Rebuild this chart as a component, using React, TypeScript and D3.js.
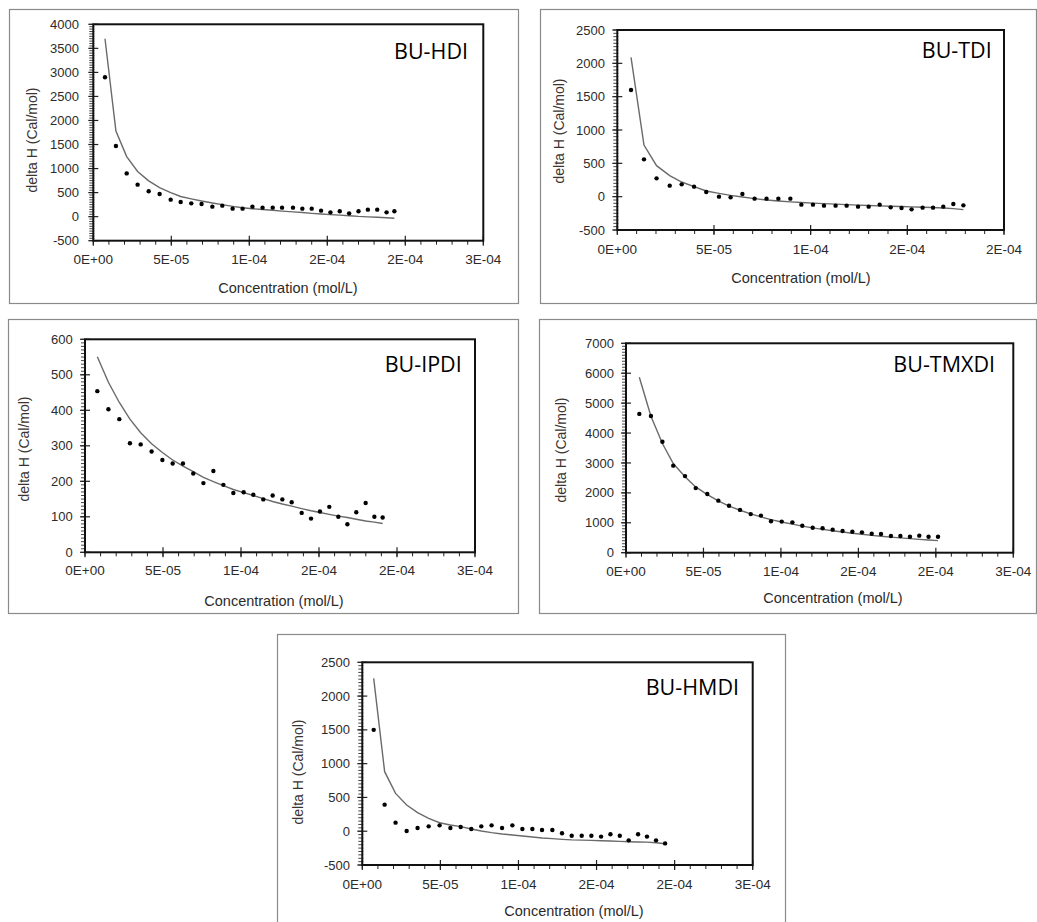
import React from "react";
import * as d3 from "d3";

// ---------- DATA (concentration in units of 1e-5 mol/L, deltaH in Cal/mol) ----------
const hdiConc = [0.75, 1.45, 2.14, 2.84, 3.55, 4.25, 4.96, 5.6, 6.28, 6.94, 7.63, 8.27, 8.93, 9.57, 10.2, 10.85, 11.5, 12.1, 12.8, 13.4, 14.0, 14.6, 15.2, 15.8, 16.4, 17.0, 17.6, 18.2, 18.8, 19.3];
const hdiObs = [2900, 1470, 900, 666, 527, 472, 354, 305, 277, 263, 208, 229, 166, 166, 208, 187, 187, 187, 187, 166, 166, 125, 90, 111, 69, 111, 146, 146, 90, 111];
const hdiFit = [3700, 1780, 1250, 940, 745, 605, 500, 420, 370, 325, 285, 250, 215, 185, 165, 148, 132, 115, 100, 85, 68, 55, 42, 32, 20, 5, -5, -12, -22, -32];

const tdiConc = [0.71, 1.38, 2.03, 2.71, 3.33, 3.97, 4.6, 5.26, 5.86, 6.47, 7.1, 7.72, 8.33, 8.95, 9.52, 10.12, 10.69, 11.29, 11.86, 12.45, 13.0, 13.57, 14.14, 14.7, 15.22, 15.79, 16.33, 16.86, 17.38, 17.9];
const tdiObs = [1600, 560, 275, 165, 185, 150, 70, 0, -10, 40, -30, -30, -30, -30, -120, -120, -135, -135, -135, -150, -150, -120, -160, -170, -190, -165, -165, -150, -110, -130];
const tdiFit = [2090, 775, 465, 315, 220, 150, 85, 50, 20, -5, -30, -50, -65, -78, -88, -97, -105, -112, -120, -127, -133, -138, -143, -148, -153, -158, -163, -170, -180, -195];

const ipdiConc = [0.79, 1.5, 2.2, 2.88, 3.57, 4.27, 4.96, 5.62, 6.28, 6.94, 7.59, 8.23, 8.87, 9.51, 10.17, 10.79, 11.43, 12.03, 12.65, 13.25, 13.89, 14.49, 15.06, 15.66, 16.24, 16.82, 17.39, 17.99, 18.55, 19.08];
const ipdiObs = [454, 403, 375, 307, 304, 284, 260, 250, 250, 222, 195, 229, 190, 167, 169, 162, 149, 160, 149, 141, 111, 95, 115, 128, 100, 79, 113, 139, 100, 98];
const ipdiFit = [551, 479, 422, 375, 337, 306, 281, 260, 243, 227, 211, 199, 188, 177, 168, 160, 151, 143, 136, 130, 123, 117, 112, 107, 102, 98, 93, 88, 85, 81];

const tmxdiConc = [0.86, 1.61, 2.35, 3.05, 3.81, 4.5, 5.25, 5.96, 6.65, 7.36, 8.05, 8.71, 9.36, 10.05, 10.74, 11.38, 12.05, 12.69, 13.34, 13.98, 14.61, 15.23, 15.86, 16.46, 17.1, 17.71, 18.33, 18.93, 19.53, 20.14];
const tmxdiObs = [4640, 4570, 3710, 2910, 2560, 2160, 1960, 1740, 1570, 1430, 1290, 1240, 1050, 1040, 1015, 900, 835, 815, 770, 725, 700, 680, 635, 625, 560, 560, 535, 570, 535, 535];
const tmxdiFit = [5865, 4560, 3650, 2980, 2540, 2200, 1940, 1730, 1560, 1420, 1300, 1195, 1105, 1025, 955, 890, 830, 780, 735, 690, 650, 615, 580, 550, 520, 495, 470, 445, 425, 405];

const hmdiConc = [0.73, 1.43, 2.13, 2.84, 3.54, 4.25, 4.95, 5.64, 6.3, 6.98, 7.62, 8.28, 8.95, 9.61, 10.25, 10.89, 11.51, 12.17, 12.79, 13.41, 14.05, 14.67, 15.29, 15.89, 16.49, 17.06, 17.66, 18.23, 18.81, 19.39];
const hmdiObs = [1500, 393, 127, 3, 48, 72, 87, 48, 63, 33, 72, 87, 48, 87, 33, 33, 18, 18, -31, -66, -66, -66, -80, -46, -66, -135, -46, -80, -135, -180];
const hmdiFit = [2263, 881, 560, 388, 275, 191, 126, 92, 68, 33, 3, -21, -41, -56, -71, -86, -100, -110, -120, -128, -132, -135, -140, -145, -150, -155, -160, -162, -170, -185];

const xTicksWide = [0, 5e-5, 1e-4, 1.5e-4, 2e-4, 2.5e-4];
const xTickLabelsWide = ["0E+00", "5E-05", "1E-04", "2E-04", "2E-04", "3E-04"];
const xTicksNarrow = [0, 5e-5, 1e-4, 1.5e-4, 2e-4];
const xTickLabelsNarrow = ["0E+00", "5E-05", "1E-04", "2E-04", "2E-04"];

const titles = ["BU-HDI", "BU-TDI", "BU-IPDI", "BU-TMXDI", "BU-HMDI"];
const xTitle = "Concentration (mol/L)";
const yTitle = "delta H (Cal/mol)";

// ---------- LAYOUT ----------
type PanelCfg = {
  title: string;
  conc: number[];
  obs: number[];
  fit: number[];
  box: [number, number, number, number];
  plot: { l: number; r: number; t: number; b: number };
  yDomain: [number, number];
  yStep: number;
  yMinor: number;
  xTicks: number[];
  xLabels: string[];
  titleX: number;
  titleY: number;
  yLabX: number;
  yTitleX: number;
  yTitleY: number;
  xLabY: number;
  xTitleX: number;
  xTitleY: number;
};

const panels: PanelCfg[] = [
  {
    title: titles[0], conc: hdiConc, obs: hdiObs, fit: hdiFit,
    box: [9, 9, 518, 303], plot: { l: 93.3, r: 483.3, t: 24.3, b: 240.7 },
    yDomain: [-500, 4000], yStep: 500, yMinor: 50,
    xTicks: xTicksWide, xLabels: xTickLabelsWide,
    titleX: 468, titleY: 59, yLabX: 79, yTitleX: 36.5, yTitleY: 140,
    xLabY: 264, xTitleX: 288, xTitleY: 293,
  },
  {
    title: titles[1], conc: tdiConc, obs: tdiObs, fit: tdiFit,
    box: [540, 9, 1036, 303], plot: { l: 617.3, r: 1004, t: 30, b: 230 },
    yDomain: [-500, 2500], yStep: 500, yMinor: 50,
    xTicks: xTicksNarrow, xLabels: xTickLabelsNarrow,
    titleX: 991.7, titleY: 58, yLabX: 605, yTitleX: 563.5, yTitleY: 131,
    xLabY: 254, xTitleX: 801, xTitleY: 283,
  },
  {
    title: titles[2], conc: ipdiConc, obs: ipdiObs, fit: ipdiFit,
    box: [8, 319, 518, 613], plot: { l: 85, r: 475, t: 339.3, b: 552.3 },
    yDomain: [0, 600], yStep: 100, yMinor: 10,
    xTicks: xTicksWide, xLabels: xTickLabelsWide,
    titleX: 461.7, titleY: 371.7, yLabX: 72.7, yTitleX: 28.5, yTitleY: 449,
    xLabY: 575, xTitleX: 274, xTitleY: 606,
  },
  {
    title: titles[3], conc: tmxdiConc, obs: tmxdiObs, fit: tmxdiFit,
    box: [539, 319, 1036, 613], plot: { l: 626, r: 1013.3, t: 343.3, b: 552.7 },
    yDomain: [0, 7000], yStep: 1000, yMinor: 100,
    xTicks: xTicksWide, xLabels: xTickLabelsWide,
    titleX: 995, titleY: 371.7, yLabX: 614, yTitleX: 566, yTitleY: 450,
    xLabY: 576, xTitleX: 833, xTitleY: 603,
  },
  {
    title: titles[4], conc: hmdiConc, obs: hmdiObs, fit: hmdiFit,
    box: [277, 634, 785, 940], plot: { l: 362.3, r: 752.7, t: 662.3, b: 865 },
    yDomain: [-500, 2500], yStep: 500, yMinor: 50,
    xTicks: xTicksWide, xLabels: xTickLabelsWide,
    titleX: 739, titleY: 695, yLabX: 350, yTitleX: 302.5, yTitleY: 772,
    xLabY: 889, xTitleX: 574, xTitleY: 916,
  },
];

const FONT = "'Liberation Sans', Arial, sans-serif";
const TEXT = "#2b2b2b";

function Panel({ p }: { p: PanelCfg }) {
  const { l, r, t, b } = p.plot;
  const xMax = p.xTicks[p.xTicks.length - 1];
  const x = d3.scaleLinear().domain([0, xMax]).range([l, r]);
  const y = d3.scaleLinear().domain(p.yDomain).range([b, t]);
  const yMajor = d3.range(p.yDomain[0], p.yDomain[1] + 0.001, p.yStep);
  const yMinorTicks = d3.range(p.yDomain[0], p.yDomain[1] + 0.001, p.yMinor);
  const xMinorTicks = d3.range(0, xMax + 1e-9, 1e-5);
  const pts = p.conc.map((c, i) => ({ c: c * 1e-5, o: p.obs[i], f: p.fit[i] }));
  const line = d3
    .line<{ c: number; f: number }>()
    .x((d) => x(d.c))
    .y((d) => y(d.f));
  const [bx0, by0, bx1, by1] = p.box;

  return (
    <g>
      <rect x={bx0 + 0.5} y={by0 + 0.5} width={bx1 - bx0} height={by1 - by0} fill="#fff" stroke="#8a8a8a" strokeWidth={1.2} />
      {yMinorTicks.map((v, i) => (
        <line key={"ym" + i} x1={l - 4} x2={l + 1} y1={y(v)} y2={y(v)} stroke="#333" strokeWidth={0.9} />
      ))}
      {yMajor.map((v, i) => (
        <g key={"yM" + i}>
          <line x1={l - 5} x2={l + 5} y1={y(v)} y2={y(v)} stroke="#222" strokeWidth={1.2} />
          <text x={p.yLabX} y={y(v) + 4.6} textAnchor="end" fontFamily={FONT} fontSize={13} fill={TEXT}>
            {v}
          </text>
        </g>
      ))}
      {xMinorTicks.map((v, i) => (
        <line key={"xm" + i} x1={x(v)} x2={x(v)} y1={b} y2={b + 4} stroke="#222" strokeWidth={1} />
      ))}
      {p.xTicks.map((v, i) => (
        <g key={"xM" + i}>
          <line x1={x(v)} x2={x(v)} y1={b - 5} y2={b + 5} stroke="#222" strokeWidth={1.2} />
          <text x={x(v)} y={p.xLabY} textAnchor="middle" fontFamily={FONT} fontSize={13.5} fill={TEXT}>
            {p.xLabels[i]}
          </text>
        </g>
      ))}
      <rect x={l} y={t} width={r - l} height={b - t} fill="none" stroke="#111" strokeWidth={2} />
      <path d={line(pts) || ""} fill="none" stroke="#6a6a6a" strokeWidth={1.4} />
      {pts.map((d, i) => (
        <circle key={"p" + i} cx={x(d.c)} cy={y(d.o)} r={2.2} fill="#000" />
      ))}
      <text x={p.titleX} y={p.titleY} textAnchor="end" fontFamily="'Open Sans', Lato, sans-serif" fontSize={21.5} fill="#000">
        {p.title}
      </text>
      <text x={p.xTitleX} y={p.xTitleY} textAnchor="middle" fontFamily={FONT} fontSize={14.5} fill={TEXT}>
        {xTitle}
      </text>
      <text
        transform={`translate(${p.yTitleX},${p.yTitleY}) rotate(-90)`}
        textAnchor="middle"
        fontFamily={FONT}
        fontSize={14}
        fill="#3a3330"
      >
        {yTitle}
      </text>
    </g>
  );
}

export default function App() {
  return (
    <svg width={1037} height={922} style={{ position: "absolute", left: 0, top: 0, background: "#fff" }}>
      <rect x={0} y={0} width={1037} height={922} fill="#fff" />
      {panels.map((p, i) => (
        <Panel key={i} p={p} />
      ))}
    </svg>
  );
}
